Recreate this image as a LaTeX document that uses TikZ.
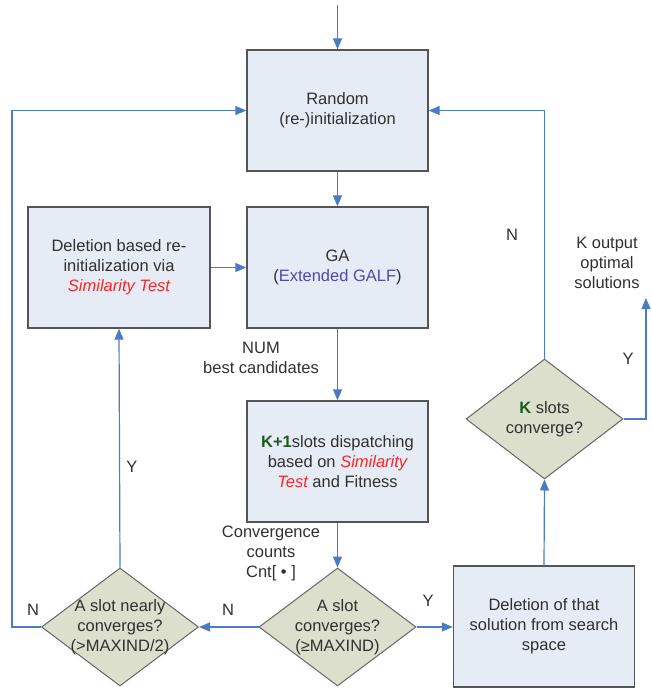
\documentclass[tikz,border=0pt]{standalone}
\usepackage{fontspec}
\setmainfont{Liberation Sans}
\usetikzlibrary{arrows.meta,shapes.geometric}
\definecolor{boxfill}{HTML}{E6ECF6}
\definecolor{boxline}{HTML}{555555}
\definecolor{dfill}{HTML}{DCDFCB}
\definecolor{dline}{HTML}{666666}
\definecolor{connc}{HTML}{4A7CC4}
\definecolor{txt}{HTML}{303030}
\definecolor{redt}{HTML}{FF2525}
\definecolor{bluet}{HTML}{4B4BA8}
\definecolor{greent}{HTML}{1E5A1E}
\begin{document}
\begin{tikzpicture}[x=1pt,y=-1pt, font=\fontsize{16.5}{20}\selectfont, text=txt,
 procbox/.style={draw=boxline, line width=1.3pt, fill=boxfill, rectangle, minimum width=181pt, minimum height=121pt, inner sep=0pt, align=center},
 decis/.style={draw=dline, line width=1pt, fill=dfill, diamond, minimum width=157pt, minimum height=118pt, inner sep=0pt},
 lbl/.style={align=center, inner sep=0pt},
 connl/.style={draw=connc, line width=1.2pt},
 arr/.style={connl, -{Triangle[length=11pt,width=9pt]}}]
\useasboundingbox (0,0) rectangle (651,688);
\node[procbox] (rand) at (337.5,110.5) {Random\\(re-)initialization};
\node[procbox] (ga) at (337.5,267.5) {GA\\(\textcolor{bluet}{Extended GALF})};
\node[procbox, minimum width=182pt] (del) at (119,267.5) {Deletion based re-\\initialization via\\\textcolor{redt}{\itshape Similarity Test}};
\node[procbox] (kp1) at (337.5,461.5) {\textbf{\textcolor{greent}{K+1}}slots dispatching\\based on \textcolor{redt}{\itshape Similarity}\\\textcolor{redt}{\itshape Test} and Fitness};
\node[decis] (dm) at (337.5,627) {};
\node[lbl] (dmt) at (dm.center) {A slot\\converges?\\(≥MAXIND)};
\node[decis] (dl) at (120,627) {};
\node[lbl] (dlt) at (dl.center) {A slot nearly\\converges?\\(>MAXIND/2)};
\node[procbox] (dd) at (544,626.5) {Deletion of that\\solution from search\\space};
\node[decis, minimum height=120pt] (dk) at (544.5,419) {};
\node[lbl] (dkt) at (dk.center) {\textbf{\textcolor{greent}{K}} slots\\converge?};
% labels
\node[lbl] (num) at (261,358) {NUM\\best candidates};
\node[lbl] (cnt) at (271,553) {Convergence\\counts\\Cnt[ • ]};
\node[lbl] (kout) at (607,263) {K output\\optimal\\solutions};
\node[lbl] (n1) at (33,610) {N};
\node[lbl] (n2) at (228,610) {N};
\node[lbl] (y1) at (428,601) {Y};
\node[lbl] (y2) at (132,467) {Y};
\node[lbl] (n3) at (512,235) {N};
\node[lbl] (y3) at (628,359) {Y};
% connectors
\coordinate (top) at (337.5,5);
\coordinate (lx) at (12,0);
\coordinate (outp) at (646,298);
\draw[arr] (top) -- (rand.north);
\draw[arr] (rand.south) -- (ga.north);
\draw[arr] (ga.south) -- (kp1.north);
\draw[arr] (kp1.south) -- (dm.north);
\draw[arr] (dm.east) -- (dm.east -| dd.west);
\draw[arr] (dm.west) -- (dl.east);
\draw[arr] (dl.north) -- (del.south);
\draw[arr] (del.east) -- (ga.west);
\draw[arr] (dl.west) -- (dl.west -| lx) |- (rand.west);
\draw[arr] (dd.north) -- (dk.south);
\draw[arr] (dk.north) |- (rand.east);
\draw[arr] (dk.east) -| (outp);
\end{tikzpicture}
\end{document}
